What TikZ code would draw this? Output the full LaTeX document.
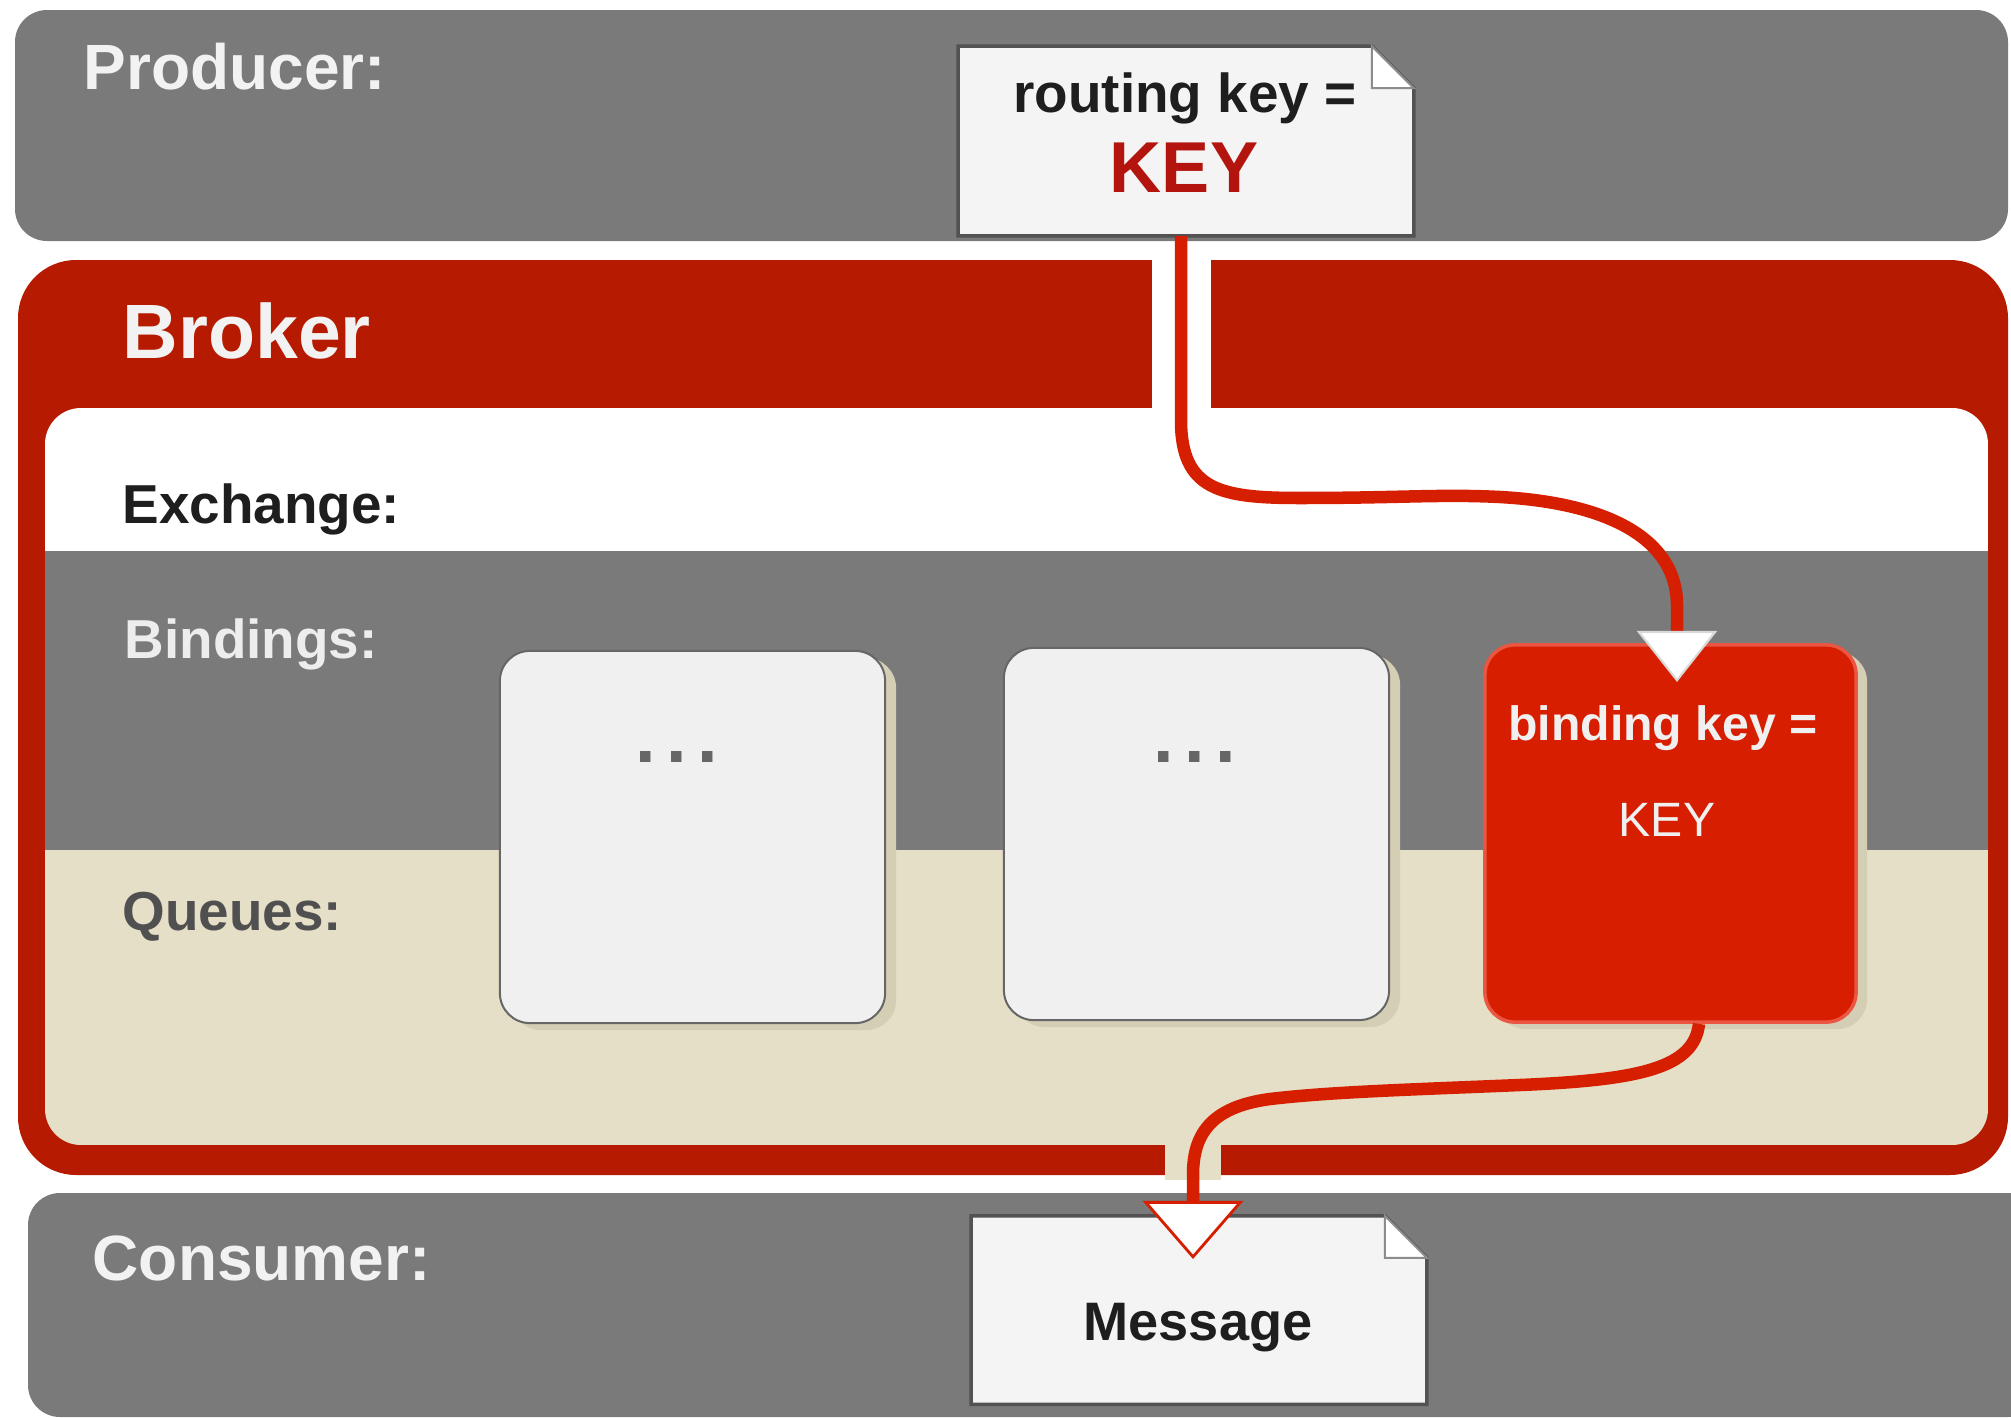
\documentclass[tikz,border=0pt]{standalone}
\usepackage{fontspec}
\setmainfont{Liberation Sans}
\usetikzlibrary{calc,arrows.meta}
\definecolor{bandgray}{RGB}{122,122,122}
\definecolor{brokerred}{RGB}{182,26,0}
\definecolor{cardred}{RGB}{216,30,0}
\definecolor{cardredline}{RGB}{234,86,66}
\definecolor{linered}{RGB}{214,30,0}
\definecolor{beige}{RGB}{229,223,199}
\definecolor{docfill}{RGB}{244,244,244}
\definecolor{cardfill}{RGB}{240,240,240}
\definecolor{keyred}{RGB}{180,20,14}
\definecolor{shadowbeige}{RGB}{212,206,180}
\definecolor{darktxt}{RGB}{30,30,30}
\definecolor{queuetxt}{RGB}{80,80,80}
\begin{document}
\begin{tikzpicture}[x=0.01cm,y=-0.01cm,
  txt/.style={inner sep=0pt, anchor=base},
  lbl/.style={inner sep=0pt, anchor=base west},
  panelfont/.style={font=\bfseries\fontsize{18.2}{20}\selectfont},
  secfont/.style={font=\bfseries\fontsize{15.6}{18}\selectfont},
  dotfont/.style={font=\bfseries\fontsize{21}{24}\selectfont},
  docbox/.style={rectangle, inner sep=0pt, minimum width=4.54cm, minimum height=1.88cm},
  docbody/.style={fill=docfill, draw=black!68, line width=0.035cm},
  docfold/.style={fill=white, draw=black!45, line width=0.02cm},
  cardshadow/.style={preaction={fill=shadowbeige, draw=none, transform canvas={xshift=0.11cm, yshift=-0.07cm}}},
  card/.style={rectangle, rounded corners=0.3cm, minimum width=3.85cm, minimum height=3.72cm, fill=cardfill, draw=black!60, line width=0.02cm, cardshadow},
  redcard/.style={rectangle, rounded corners=0.3cm, minimum width=3.71cm, minimum height=3.77cm, fill=cardred, draw=cardredline, line width=0.035cm, cardshadow},
  flow/.style={draw=linered, line width=0.125cm}
]
\clip (0,0) rectangle (2011,1418);
\fill[white] (0,0) rectangle (2011,1418);

% Producer panel
\fill[bandgray, rounded corners=0.32cm] (15,10) rectangle (2008,241);
\node[lbl, panelfont, text=white!95!black] (prodlbl) at (83,90) {Producer:};

% Broker
\fill[brokerred, rounded corners=0.58cm] (18,260) rectangle (2008,1175);
\node[lbl, font=\bfseries\fontsize{21.9}{24}\selectfont, text=white!95!black] (brokerlbl) at (122,358) {Broker};
\begin{scope}
  \clip[rounded corners=0.36cm] (45,408) rectangle (1988,1145);
  \fill[white] (45,408) rectangle (1988,551);
  \fill[bandgray] (45,551) rectangle (1988,850);
  \fill[beige] (45,850) rectangle (1988,1145);
\end{scope}
\fill[white] (1152,255) rectangle (1211,420);
\fill[beige] (1165,1130) rectangle (1221,1180);

\node[lbl, secfont, text=darktxt] (exlbl) at (122,523) {Exchange:};
\node[lbl, secfont, text=white!93!black] (bindlbl) at (124,658) {Bindings:};
\node[lbl, secfont, text=queuetxt] (qlbl) at (122,930) {Queues:};

% Queue cards
\node[card] (q1) at (692.5,837) {};
\node[card] (q2) at (1196.5,834) {};
\node[redcard] (q3) at (1670.5,833.5) {};
\node[txt, dotfont, text=black!60] (q1dots) at (677,762) {.\kern0.14em.\kern0.14em.};
\node[txt, dotfont, text=black!60] (q2dots) at (1195,762) {.\kern0.14em.\kern0.14em.};
\node[txt, font=\bfseries\fontsize{13.7}{16}\selectfont, text=white!94!black] (bk1) at (1663,740) {binding key =};
\node[txt, font=\fontsize{13.7}{16}\selectfont, text=white!94!black] (bk2) at (1667,836) {KEY};

% Routing key document
\node[docbox] (rk) at (1186,141) {};
\filldraw[docbody] (rk.north west) -- ($(rk.north east)+(-42,0)$) -- ($(rk.north east)+(0,42)$) -- (rk.south east) -- (rk.south west) -- cycle;
\filldraw[docfold] ($(rk.north east)+(-42,0)$) -- ($(rk.north east)+(-42,42)$) -- ($(rk.north east)+(0,42)$) -- cycle;
\node[txt, secfont, text=darktxt] (rk1) at (1185,113) {routing key =};
\node[txt, font=\bfseries\fontsize{20.5}{23}\selectfont, text=keyred] (rk2) at (1184,192) {KEY};

% Consumer panel
\fill[bandgray, rounded corners=0.32cm] (28,1193) rectangle (2040,1417);
\node[lbl, panelfont, text=white!95!black] (conslbl) at (92,1280) {Consumer:};

% Message document
\node[docbox, minimum height=1.87cm] (msg) at (1199,1310) {};
\filldraw[docbody] (msg.north west) -- ($(msg.north east)+(-42,0)$) -- ($(msg.north east)+(0,42)$) -- (msg.south east) -- (msg.south west) -- cycle;
\filldraw[docfold] ($(msg.north east)+(-42,0)$) -- ($(msg.north east)+(-42,42)$) -- ($(msg.north east)+(0,42)$) -- cycle;
\node[txt, font=\bfseries\fontsize{15.4}{18}\selectfont, text=darktxt] (msgtxt) at (1198,1340) {Message};

% Connectors
\coordinate (tip1) at (1677,682);
\coordinate (tip2) at (1193,1259);
\draw[flow, -{Triangle[width=0.8cm, length=0.51cm, fill=white, color=white!85!black, line width=0.6pt]}]
  ($(rk.south)+(-5,0)$) -- (1181,420) .. controls (1181,490) and (1220,498) .. (1300,498)
  .. controls (1400,498) and (1440,494) .. (1500,497)
  .. controls (1610,503) and (1677,540) .. (1677,605) -- (tip1);
\draw[flow, -{Triangle[width=1.0cm, length=0.58cm, fill=white, line width=0.8pt]}]
  ($(q3.south)+(28.5,0)$) .. controls (1694,1068) and (1640,1080) .. (1520,1085)
  .. controls (1400,1090) and (1330,1092) .. (1270,1099)
  .. controls (1210,1107) and (1193,1135) .. (1193,1175) -- (tip2);
\end{tikzpicture}
\end{document}
